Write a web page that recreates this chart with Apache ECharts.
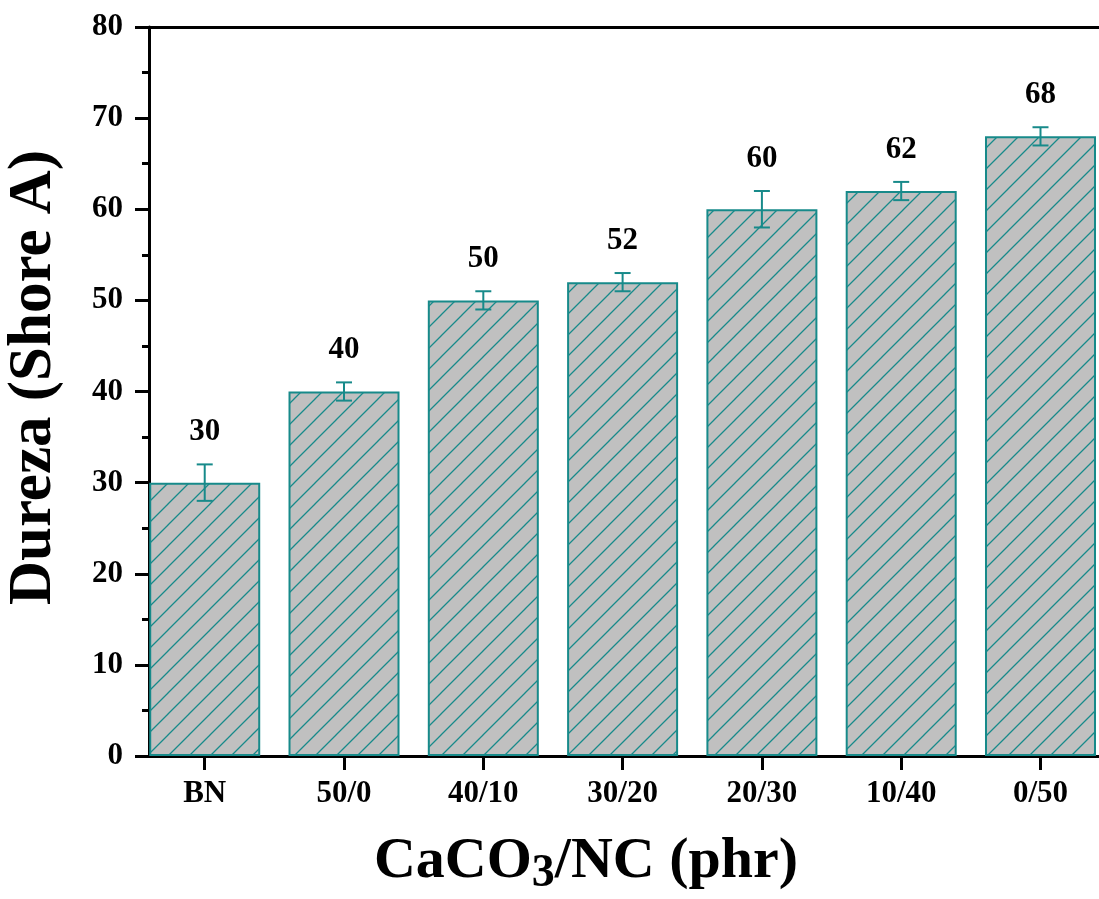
<!DOCTYPE html>
<html><head><meta charset="utf-8">
<script src="https://cdn.jsdelivr.net/npm/echarts@6/dist/echarts.min.js"></script>
<style>html,body{margin:0;padding:0;background:#fff}#c{width:1099px;height:899px}</style>
</head><body><div id="c"></div>
<script>
const categories = ['BN', '50/0', '40/10', '30/20', '20/30', '10/40', '0/50'];
const positions = [1, 2, 3, 4, 5, 6, 7];
const hardness = [30, 40, 50, 52, 60, 62, 68];
const errors = [2, 1, 1, 1, 2, 1, 1];

const TEAL = '#178a8a';
const FONT = '"Liberation Serif", "Times New Roman", serif';

const S = 21;
const tile = document.createElement('canvas');
tile.width = S; tile.height = S;
const ctx = tile.getContext('2d');
ctx.fillStyle = '#c0c0c0';
ctx.fillRect(0, 0, S, S);
ctx.strokeStyle = TEAL;
ctx.lineWidth = 1.3;
ctx.beginPath();
ctx.moveTo(-1, S + 1); ctx.lineTo(S + 1, -1);
ctx.moveTo(-2, 2); ctx.lineTo(2, -2);
ctx.moveTo(S - 2, S + 2); ctx.lineTo(S + 2, S - 2);
ctx.stroke();

const barData = positions.map((p, i) => [p, hardness[i]]);
const errData = positions.map((p, i) => [p, hardness[i], errors[i]]);

const chart = echarts.init(document.getElementById('c'), null, {renderer: 'canvas'});
chart.setOption({
  animation: false,
  backgroundColor: '#fff',
  grid: {left: 149, top: 27, right: 0, bottom: 143, containLabel: false, outerBoundsMode: 'none'},
  xAxis: [{
    type: 'value', min: 0.6, max: 7.42,
    axisLine: {show: true, lineStyle: {color: '#000', width: 3}},
    axisTick: {show: true, customValues: positions, length: 14, inside: false, lineStyle: {color: '#000', width: 3}},
    axisLabel: {
      customValues: positions, margin: 22,
      formatter: v => categories[Math.round(v) - 1] || '',
      fontFamily: FONT, fontWeight: 'bold', fontSize: 31, color: '#000'
    },
    splitLine: {show: false}
  }, {
    type: 'value', min: 0.6, max: 7.42, position: 'top',
    axisLine: {show: true, onZero: false, lineStyle: {color: '#000', width: 3}},
    axisTick: {show: false}, axisLabel: {show: false}, splitLine: {show: false}
  }],
  yAxis: {
    type: 'value', min: 0, max: 80, interval: 10,
    name: 'Dureza (Shore A)', nameLocation: 'middle', nameGap: 84,
    nameTextStyle: {fontFamily: FONT, fontWeight: 'bold', fontSize: 61, color: '#000', padding: [0, 0, 0, 28]},
    axisLine: {show: true, lineStyle: {color: '#000', width: 3}},
    axisTick: {show: true, length: 14, lineStyle: {color: '#000', width: 3}},
    minorTick: {show: true, splitNumber: 2, length: 7, lineStyle: {color: '#000', width: 3}},
    axisLabel: {margin: 26, fontFamily: FONT, fontWeight: 'bold', fontSize: 31, color: '#000'},
    splitLine: {show: false}
  },
  graphic: [{
    type: 'text', x: 586, y: 862,
    style: {
      text: '{n|CaCO}{s|3}{n|/NC (phr)}',
      align: 'center', verticalAlign: 'middle',
      rich: {
        n: {fontFamily: FONT, fontWeight: 'bold', fontSize: 58, fill: '#000', color: '#000'},
        s: {fontFamily: FONT, fontWeight: 'bold', fontSize: 46, fill: '#000', color: '#000', padding: [24, 0, 0, 0]}
      }
    }
  }],
  series: [{
    type: 'bar', data: barData, barWidth: 111,
    itemStyle: {color: {image: tile, repeat: 'repeat'}, borderColor: TEAL, borderWidth: 2}
  }, {
    type: 'custom', data: errData, z: 5, clip: false,
    renderItem: function (params, api) {
      const x = api.value(0), v = api.value(1), e = api.value(2);
      const t = api.coord([x, v + e]);
      const b = api.coord([x, v - e]);
      const cw = 8;
      const st = {stroke: TEAL, lineWidth: 2};
      return {type: 'group', children: [
        {type: 'line', shape: {x1: t[0], y1: t[1], x2: b[0], y2: b[1]}, style: st},
        {type: 'line', shape: {x1: t[0] - cw, y1: t[1], x2: t[0] + cw, y2: t[1]}, style: st},
        {type: 'line', shape: {x1: b[0] - cw, y1: b[1], x2: b[0] + cw, y2: b[1]}, style: st},
        {type: 'text', x: t[0], y: t[1] - 32, style: {
          text: String(v), fill: '#000', align: 'center', verticalAlign: 'middle',
          font: 'bold 31px ' + FONT
        }}
      ]};
    }
  }]
});
</script></body></html>
